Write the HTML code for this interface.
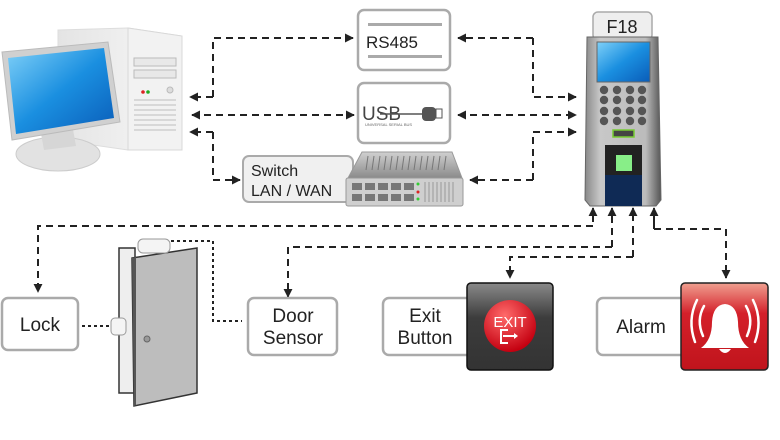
<!DOCTYPE html>
<html><head><meta charset="utf-8"><style>
html,body{margin:0;padding:0;background:#fff;}
svg{display:block;}
text{font-family:"Liberation Sans","DejaVu Sans",sans-serif;fill:#222;}
</style></head><body>
<svg width="780" height="440" viewBox="0 0 780 440" xmlns="http://www.w3.org/2000/svg">
<defs>
<linearGradient id="scr" x1="0" y1="0" x2="1" y2="1"><stop offset="0" stop-color="#7fd0f8"/><stop offset="0.5" stop-color="#1a8fe0"/><stop offset="1" stop-color="#0a5cb8"/></linearGradient>
<linearGradient id="tow" x1="0" y1="0" x2="1" y2="0"><stop offset="0" stop-color="#e4e4e4"/><stop offset="1" stop-color="#f8f8f8"/></linearGradient>
<linearGradient id="blk" x1="0" y1="0" x2="0" y2="1"><stop offset="0" stop-color="#8a8a8a"/><stop offset="0.4" stop-color="#3c3c3c"/><stop offset="1" stop-color="#333"/></linearGradient>
<linearGradient id="red" x1="0" y1="0" x2="0" y2="1"><stop offset="0" stop-color="#f0a090"/><stop offset="0.35" stop-color="#d4202a"/><stop offset="1" stop-color="#c0141c"/></linearGradient>
<radialGradient id="btn" cx="0.4" cy="0.3" r="0.7"><stop offset="0" stop-color="#ff6a6a"/><stop offset="1" stop-color="#c40010"/></radialGradient>
<linearGradient id="dev" x1="0" y1="0" x2="1" y2="0"><stop offset="0" stop-color="#888"/><stop offset="0.2" stop-color="#c8c8c8"/><stop offset="0.8" stop-color="#bbb"/><stop offset="1" stop-color="#555"/></linearGradient>
<linearGradient id="sw" x1="0" y1="0" x2="0" y2="1"><stop offset="0" stop-color="#d0d0d0"/><stop offset="1" stop-color="#8a8a8a"/></linearGradient>
<marker id="ar" viewBox="0 0 10 10" refX="9" refY="5" markerWidth="4.5" markerHeight="4.5" orient="auto-start-reverse"><path d="M0,0 L10,5 L0,10 z" fill="#222"/></marker>
</defs>

<!-- Computer -->
<polygon points="58,30 128,28 182,36 182,150 128,150 58,140" fill="url(#tow)" stroke="#ddd"/>
<polygon points="128,28 182,36 182,150 128,150" fill="#f2f2f2" stroke="#d8d8d8"/>
<rect x="134" y="58" width="42" height="8" fill="#e8e8e8" stroke="#bbb"/>
<rect x="134" y="70" width="42" height="8" fill="#e8e8e8" stroke="#bbb"/>
<circle cx="143" cy="92" r="1.8" fill="#d22"/><circle cx="148" cy="92" r="1.8" fill="#2a2"/>
<circle cx="170" cy="90" r="3" fill="#ddd" stroke="#bbb"/>
<g stroke="#c8c8c8" stroke-width="1.2"><line x1="134" y1="100" x2="176" y2="100"/><line x1="134" y1="105" x2="176" y2="105"/><line x1="134" y1="110" x2="176" y2="110"/><line x1="134" y1="115" x2="176" y2="115"/><line x1="134" y1="120" x2="176" y2="120"/><line x1="134" y1="125" x2="176" y2="125"/><line x1="134" y1="130" x2="176" y2="130"/></g>
<ellipse cx="58" cy="154" rx="42" ry="17" fill="#e2e2e2" stroke="#ccc"/>
<polygon points="40,128 72,124 76,146 44,150" fill="#d6d6d6"/>
<polygon points="2,52 108,42 120,122 12,140" fill="#d0d0d0" stroke="#bbb"/>
<polygon points="8,58 104,48 114,118 16,134" fill="url(#scr)"/>

<!-- RS485 -->
<rect x="358" y="10" width="92" height="60" rx="6" fill="#fff" stroke="#aaa" stroke-width="2.5"/>
<rect x="368" y="23" width="74" height="3" fill="#aaa"/>
<rect x="368" y="55" width="74" height="3" fill="#aaa"/>
<text x="366" y="48" font-size="17">RS485</text>
<!-- USB -->
<rect x="358" y="83" width="92" height="60" rx="6" fill="#fff" stroke="#aaa" stroke-width="2.5"/>
<text x="362" y="120" font-size="19" fill="#444" style="fill:#444">USB</text>
<line x1="380" y1="114" x2="424" y2="114" stroke="#555" stroke-width="1.5"/>
<rect x="422" y="107" width="14" height="14" rx="4" fill="#555"/><rect x="436" y="109" width="6" height="9" fill="#fff" stroke="#555"/>
<text x="365" y="126" font-size="4" fill="#666" style="fill:#666">UNIVERSAL SERIAL BUS</text>
<!-- Switch -->
<rect x="243" y="156" width="110" height="46" rx="6" fill="#f0f0f0" stroke="#aaa" stroke-width="2"/>
<text x="251" y="176" font-size="16">Switch</text>
<text x="251" y="196" font-size="16">LAN / WAN</text>
<polygon points="362,152 452,152 462,178 348,178" fill="url(#sw)" stroke="#999"/>
<g stroke="#777" stroke-width="1"><line x1="368" y1="156" x2="366" y2="170"/><line x1="374" y1="156" x2="372" y2="170"/><line x1="380" y1="156" x2="378" y2="170"/><line x1="386" y1="156" x2="384" y2="170"/><line x1="392" y1="156" x2="390" y2="170"/><line x1="398" y1="156" x2="396" y2="170"/><line x1="404" y1="156" x2="402" y2="170"/><line x1="410" y1="156" x2="408" y2="170"/><line x1="416" y1="156" x2="414" y2="170"/><line x1="422" y1="156" x2="420" y2="170"/><line x1="428" y1="156" x2="426" y2="170"/><line x1="434" y1="156" x2="432" y2="170"/><line x1="440" y1="156" x2="438" y2="170"/><line x1="446" y1="156" x2="444" y2="170"/></g>
<rect x="346" y="178" width="117" height="28" rx="2" fill="#cfcfcf" stroke="#999"/>
<g fill="#777"><rect x="352" y="183" width="10" height="7"/><rect x="365" y="183" width="10" height="7"/><rect x="378" y="183" width="10" height="7"/><rect x="391" y="183" width="10" height="7"/><rect x="404" y="183" width="10" height="7"/><rect x="352" y="194" width="10" height="7"/><rect x="365" y="194" width="10" height="7"/><rect x="378" y="194" width="10" height="7"/><rect x="391" y="194" width="10" height="7"/><rect x="404" y="194" width="10" height="7"/></g>
<circle cx="418" cy="184" r="1.5" fill="#3c3"/><circle cx="418" cy="192" r="1.5" fill="#d22"/><circle cx="418" cy="199" r="1.5" fill="#3c3"/>
<g stroke="#999"><line x1="425" y1="182" x2="425" y2="202"/><line x1="429" y1="182" x2="429" y2="202"/><line x1="433" y1="182" x2="433" y2="202"/><line x1="437" y1="182" x2="437" y2="202"/><line x1="441" y1="182" x2="441" y2="202"/><line x1="445" y1="182" x2="445" y2="202"/><line x1="449" y1="182" x2="449" y2="202"/><line x1="453" y1="182" x2="453" y2="202"/></g>

<!-- F18 -->
<rect x="593" y="12" width="59" height="28" rx="5" fill="#eee" stroke="#aaa" stroke-width="1.5"/>
<text x="622" y="33" font-size="18" text-anchor="middle">F18</text>
<polygon points="587,37 658,37 661,200 656,206 590,206 585,200" fill="url(#dev)" stroke="#666"/>
<rect x="597" y="42" width="53" height="40" fill="url(#scr)" stroke="#666"/>
<g fill="#555"><circle cx="604" cy="90" r="4.2"/><circle cx="617" cy="90" r="4.2"/><circle cx="630" cy="90" r="4.2"/><circle cx="642" cy="90" r="4.2"/><circle cx="604" cy="100" r="4.2"/><circle cx="617" cy="100" r="4.2"/><circle cx="630" cy="100" r="4.2"/><circle cx="642" cy="100" r="4.2"/><circle cx="604" cy="111" r="4.2"/><circle cx="617" cy="111" r="4.2"/><circle cx="630" cy="111" r="4.2"/><circle cx="642" cy="111" r="4.2"/><circle cx="604" cy="121" r="4.2"/><circle cx="617" cy="121" r="4.2"/><circle cx="630" cy="121" r="4.2"/><circle cx="642" cy="121" r="4.2"/></g>
<rect x="613" y="130" width="21" height="7" fill="#444" stroke="#7c3" stroke-width="1.5"/>
<rect x="605" y="145" width="37" height="61" fill="#222"/>
<rect x="605" y="175" width="37" height="31" fill="#0f2a55"/>
<rect x="616" y="155" width="16" height="16" fill="#8e8"/>

<!-- connectors top -->
<g fill="none" stroke="#222" stroke-width="2" stroke-dasharray="7,5">
<path d="M213,97 V38 H353" marker-end="url(#ar)"/>
<path d="M213,97 H190" marker-end="url(#ar)"/>
<path d="M192,115 H354" marker-start="url(#ar)" marker-end="url(#ar)"/>
<path d="M213,132 H190" marker-end="url(#ar)"/>
<path d="M213,132 V180 H240" marker-end="url(#ar)"/>
<path d="M533,38 H458" marker-end="url(#ar)"/>
<path d="M533,38 V97 H576" marker-end="url(#ar)"/>
<path d="M458,115 H576" marker-start="url(#ar)" marker-end="url(#ar)"/>
<path d="M533,180 H470" marker-end="url(#ar)"/>
<path d="M533,180 V132 H576" marker-end="url(#ar)"/>
<!-- bottom -->
<path d="M593,226 H38 V292" marker-end="url(#ar)"/>
<path d="M612,247 H288 V297" marker-end="url(#ar)"/>
<path d="M633,257 H510 V278" marker-end="url(#ar)"/>
<path d="M654,229 H726 V278" marker-end="url(#ar)"/>
</g>
<g fill="none" stroke="#222" stroke-width="2">
<path d="M593,222 V208" marker-end="url(#ar)"/>
<path d="M612,247 V208" stroke-dasharray="7,5" marker-end="url(#ar)"/>
<path d="M633,257 V208" stroke-dasharray="7,5" marker-end="url(#ar)"/>
<path d="M654,229 V208" marker-end="url(#ar)"/>
</g>

<!-- Lock -->
<rect x="2" y="298" width="76" height="52" rx="6" fill="#fff" stroke="#aaa" stroke-width="2.5"/>
<text x="40" y="331" font-size="19" text-anchor="middle">Lock</text>
<path d="M82,326 H112" stroke="#222" stroke-width="2" stroke-dasharray="3,3"/>
<!-- Door -->
<rect x="119" y="248" width="16" height="145" fill="#eee" stroke="#333" stroke-width="1.5"/>
<polygon points="132,258 197,248 197,393 134,406" fill="#bdbdbd" stroke="#333" stroke-width="1.5"/>
<polygon points="132,258 136,257 136,405 134,406" fill="#555"/>
<circle cx="147" cy="339" r="3" fill="#999" stroke="#666"/>
<rect x="138" y="239" width="32" height="14" rx="5" fill="#f4f4f4" stroke="#999"/>
<rect x="111" y="318" width="15" height="17" rx="4" fill="#f4f4f4" stroke="#999"/>
<path d="M171,241 H213 V321 H242" fill="none" stroke="#222" stroke-width="2" stroke-dasharray="3,3"/>
<!-- Door Sensor -->
<rect x="248" y="298" width="89" height="57" rx="6" fill="#fff" stroke="#aaa" stroke-width="2.5"/>
<text x="293" y="322" font-size="19" text-anchor="middle">Door</text>
<text x="293" y="344" font-size="19" text-anchor="middle">Sensor</text>
<!-- Exit -->
<rect x="383" y="298" width="90" height="57" rx="6" fill="#fff" stroke="#aaa" stroke-width="2.5"/>
<text x="425" y="322" font-size="19" text-anchor="middle">Exit</text>
<text x="425" y="344" font-size="19" text-anchor="middle">Button</text>
<rect x="467" y="283" width="86" height="87" rx="4" fill="url(#blk)" stroke="#111" stroke-width="1.5"/>
<circle cx="510" cy="326" r="26" fill="url(#btn)"/>
<text x="510" y="327" font-size="15" text-anchor="middle" style="fill:#fff">EXIT</text>
<path d="M508,330 H501 V343 H508 M503,336 H516" fill="none" stroke="#fff" stroke-width="2"/>
<path d="M514,333 L518,336 L514,339 z" fill="#fff"/>
<!-- Alarm -->
<rect x="597" y="298" width="94" height="57" rx="6" fill="#fff" stroke="#aaa" stroke-width="2.5"/>
<text x="641" y="333" font-size="19" text-anchor="middle">Alarm</text>
<rect x="681" y="283" width="87" height="87" rx="4" fill="url(#red)" stroke="#222" stroke-width="1.5"/>
<path d="M701,348 Q712,340 712,322 Q713,305 725,304 Q737,305 738,322 Q738,340 749,348 Z" fill="#fff"/>
<path d="M719,349 Q725,357 731,349 Z" fill="#fff"/>
<g fill="none" stroke="#fff" stroke-width="2.5" stroke-linecap="round">
<path d="M704,306 Q696,320 703,336"/><path d="M697,300 Q687,320 695,342"/>
<path d="M746,306 Q754,320 747,336"/><path d="M753,300 Q763,320 755,342"/>
</g>
</svg>
</body></html>
